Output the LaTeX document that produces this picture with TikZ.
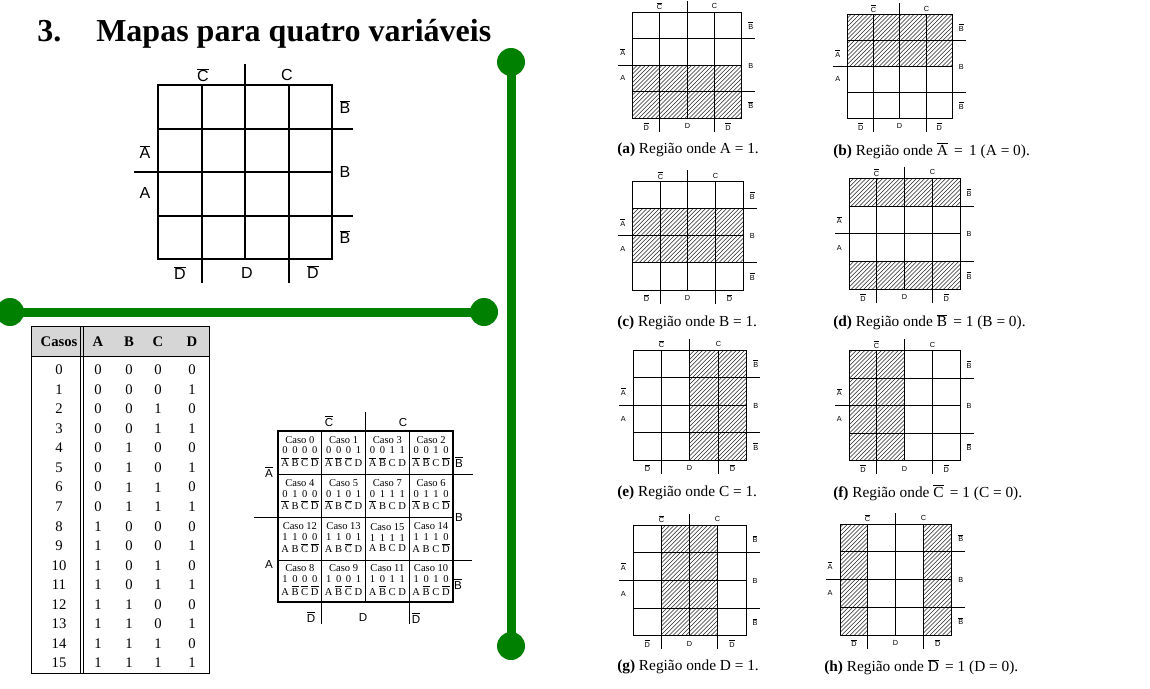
\documentclass[tikz,border=0pt]{standalone}
\usepackage{fontspec}
\setmainfont{Liberation Serif}
\setsansfont{Liberation Sans}
\usetikzlibrary{calc}
\definecolor{grn}{RGB}{0,128,0}
\definecolor{headgray}{RGB}{214,214,214}
\newcommand\nb[1]{\ensuremath{\overline{\mbox{#1}}}}
\newcommand\lt[2]{\ifnum#1=1 #2\else\nb{#2}\fi}
\tikzset{
  bigline/.style={line width=1.5pt},
  caseline/.style={line width=1.1pt},
  sline/.style={line width=0.95pt},
  tline/.style={line width=0.7pt},
  hatch/.style={line width=0.4pt, black!85},
  biglab/.style={font=\sffamily\fontsize{12}{14}\selectfont, inner sep=0pt},
  caselab/.style={font=\sffamily\fontsize{8.7}{10}\selectfont, inner sep=0pt},
  slab/.style={font=\sffamily\fontsize{5.5}{6.5}\selectfont, inner sep=0pt},
  captxt/.style={font=\fontsize{11.5}{13}\selectfont, inner sep=0pt, anchor=west},
  thead/.style={font=\bfseries\fontsize{11}{13}\selectfont, inner sep=0pt},
  tcell/.style={font=\fontsize{11}{13}\selectfont, inner sep=0pt},
  cellt/.style={font=\fontsize{7.9}{8.5}\selectfont, inner sep=0pt},
  gline/.style={line width=6.75pt, grn},
  gdot/.style={circle, fill=grn, minimum size=21pt, inner sep=0pt},
}
% small map: #1 prefix, #2 x0, #3 y0, #4 x1, #5 y1, #6 hatch list c1/r1/c2/r2
\newcommand\smap[6]{%
  \pgfmathsetmacro\cw{(#4-#2)/4}\pgfmathsetmacro\ch{(#5-#3)/4}%
  \pgfmathsetmacro\xA{floor(#2)+0.5}\pgfmathsetmacro\xB{floor(#2+\cw)+0.5}%
  \pgfmathsetmacro\xC{floor(#2+2*\cw)+0.5}\pgfmathsetmacro\xD{floor(#2+3*\cw)+0.5}%
  \pgfmathsetmacro\xE{floor(#4)+0.5}%
  \pgfmathsetmacro\yA{floor(#3)+0.5}\pgfmathsetmacro\yB{floor(#3+\ch)+0.5}%
  \pgfmathsetmacro\yC{floor(#3+2*\ch)+0.5}\pgfmathsetmacro\yD{floor(#3+3*\ch)+0.5}%
  \pgfmathsetmacro\yE{floor(#5)+0.5}%
  \foreach \ca/\ra/\cb/\rb in {#6}{%
    \begin{scope}
      \clip (#2+\ca*\cw, #3+\ra*\ch) rectangle (#2+\cb*\cw, #3+\rb*\ch);
      \foreach \t in {0,4.2,...,240} \draw[hatch] (#2-120+\t, #3+\rb*\ch) -- ++(120,-120);
    \end{scope}}%
  \draw[sline] (\xA,\yA) rectangle (\xE,\yE);
  \foreach \v in {\xB,\xC,\xD} \draw[sline] (\v,\yA) -- (\v,\yE);
  \foreach \v in {\yB,\yC,\yD} \draw[sline] (\xA,\v) -- (\xE,\v);
  \draw[sline] (\xC,\yA) -- ++(0,-12);
  \draw[sline] (\xB,\yE) -- ++(0,13);
  \draw[sline] (\xD,\yE) -- ++(0,13);
  \draw[sline] (\xE,\yB) -- ++(13,0);
  \draw[sline] (\xE,\yD) -- ++(13,0);
  \draw[sline] (\xA,\yC) -- ++(-15,0);
  \node[slab] (#1cn) at (\xB,#3-6) {\nb{C}};
  \node[slab] (#1c) at (\xD,#3-6) {C};
  \node[slab] (#1bna) at (#4+9,#3+0.5*\ch) {\nb{B}};
  \node[slab] (#1b) at (#4+9,\yC) {B};
  \node[slab] (#1bnb) at (#4+9,#3+3.5*\ch) {\nb{B}};
  \node[slab] (#1an) at (#2-10,#3+1.5*\ch) {\nb{A}};
  \node[slab] (#1a) at (#2-10,#3+2.5*\ch) {A};
  \node[slab] (#1dna) at (#2+0.5*\cw,#5+8) {\nb{D}};
  \node[slab] (#1d) at (\xC,#5+8) {D};
  \node[slab] (#1dnb) at (#2+3.5*\cw,#5+8) {\nb{D}};
}
\begin{document}
\begin{tikzpicture}[x=0.75pt,y=-0.75pt]
\useasboundingbox (0,0) rectangle (1150,689);
\fill[white] (0,0) rectangle (1150,689);

% ---------- title ----------
\node[font=\bfseries\fontsize{24}{28}\selectfont, inner sep=0pt, anchor=base west] (num) at (37,41) {3.};
\node[font=\bfseries\fontsize{24}{28}\selectfont, inner sep=0pt, anchor=base west] (title) at (96,41) {Mapas para quatro variáveis};

% ---------- big empty map ----------
\draw[bigline] (158,85) rectangle (332,259);
\foreach \x in {201.5,245,288.5} \draw[bigline] (\x,85) -- (\x,259);
\foreach \y in {128.5,172,215.5} \draw[bigline] (158,\y) -- (332,\y);
\draw[bigline] (245,85) -- (245,64);
\draw[bigline] (201.5,259) -- (201.5,283);
\draw[bigline] (288.5,259) -- (288.5,283);
\draw[bigline] (332,128.5) -- (353,128.5);
\draw[bigline] (332,215.5) -- (353,215.5);
\draw[bigline] (158,172) -- (134,172);
\node[biglab] (mcn) at (203,75) {\nb{C}};
\node[biglab] (mc) at (287,75) {C};
\node[biglab] (mbna) at (345,107) {\nb{B}};
\node[biglab] (mb) at (345,172) {B};
\node[biglab] (mbnb) at (345,237) {\nb{B}};
\node[biglab] (man) at (145,152) {\nb{A}};
\node[biglab] (ma) at (145,193) {A};
\node[biglab] (mdna) at (180,273) {\nb{D}};
\node[biglab] (md) at (247,273) {D};
\node[biglab] (mdnb) at (313,272) {\nb{D}};

% ---------- green separators ----------
\coordinate (gt) at (511,62);
\coordinate (gb) at (511,646);
\coordinate (gl) at (10,312);
\coordinate (gr) at (484,312);
\draw[gline] (gt) -- (gb);
\draw[gline] (gl) -- (gr);
\node[gdot] (dt) at (gt) {};
\node[gdot] (db) at (gb) {};
\node[gdot] (dl) at (gl) {};
\node[gdot] (dr) at (gr) {};

% ---------- truth table ----------
\fill[headgray] (31,326) rectangle (209,356);
\draw[tline] (31,326) rectangle (209,673);
\draw[tline] (31,356) -- (209,356);
\draw[tline] (80,326) -- (80,673);
\draw[tline] (83,326) -- (83,673);
\node[thead] (hcasos) at (59,342) {Casos};
\node[thead] (hA) at (98,342) {A};
\node[thead] (hB) at (129,342) {B};
\node[thead] (hC) at (158,342) {C};
\node[thead] (hD) at (192,342) {D};
\foreach \i in {0,...,15} {
  \pgfmathsetmacro\yy{370+\i*19.53}
  \pgfmathtruncatemacro\ba{floor(\i/8)}
  \pgfmathtruncatemacro\bb{mod(floor(\i/4),2)}
  \pgfmathtruncatemacro\bc{mod(floor(\i/2),2)}
  \pgfmathtruncatemacro\bd{mod(\i,2)}
  \node[tcell] (tn\i) at (59,\yy) {\i};
  \node[tcell] (ta\i) at (98,\yy) {\ba};
  \node[tcell] (tb\i) at (129,\yy) {\bb};
  \node[tcell] (tc\i) at (158,\yy) {\bc};
  \node[tcell] (td\i) at (192,\yy) {\bd};
}

% ---------- map with cases ----------
\draw[caseline] (278,431) rectangle (453,602);
\foreach \x in {321.75,365.5,409.25} \draw[caseline] (\x,431) -- (\x,602);
\foreach \y in {474.5,517.5,560.5} \draw[caseline] (278,\y) -- (453,\y);
\draw[caseline] (365.5,431) -- (365.5,412);
\draw[caseline] (321.75,602) -- (321.75,624);
\draw[caseline] (409.25,602) -- (409.25,624);
\draw[caseline] (453,474.5) -- (473,474.5);
\draw[caseline] (453,560.5) -- (472,560.5);
\draw[caseline] (278,517.5) -- (254,517.5);
\node[caselab] (kcn) at (329,421) {\nb{C}};
\node[caselab] (kc) at (403,423) {C};
\node[caselab] (kbna) at (459,462) {\nb{B}};
\node[caselab] (kb) at (459,518) {B};
\node[caselab] (kbnb) at (458,584) {\nb{B}};
\node[caselab] (kan) at (269,472) {\nb{A}};
\node[caselab] (ka) at (269,565) {A};
\node[caselab] (kdna) at (311,617) {\nb{D}};
\node[caselab] (kd) at (363,618) {D};
\node[caselab] (kdnb) at (416,618) {\nb{D}};
\foreach \n/\cx/\cy in {0/299.9/452.75, 1/343.6/452.75, 3/387.4/452.75, 2/431.1/452.75,
                        4/299.9/496, 5/343.6/496, 7/387.4/496, 6/431.1/496,
                        12/299.9/539, 13/343.6/539, 15/387.4/539, 14/431.1/539,
                        8/299.9/581.25, 9/343.6/581.25, 11/387.4/581.25, 10/431.1/581.25} {
  \pgfmathtruncatemacro\ba{floor(\n/8)}
  \pgfmathtruncatemacro\bb{mod(floor(\n/4),2)}
  \pgfmathtruncatemacro\bc{mod(floor(\n/2),2)}
  \pgfmathtruncatemacro\bd{mod(\n,2)}
  \node[cellt] (caso\n) at (\cx,\cy) {\def\arraystretch{0.95}%
    \begin{tabular}{@{}c@{\hspace{2pt}}c@{\hspace{2pt}}c@{\hspace{2pt}}c@{}}
      \multicolumn{4}{@{}c@{}}{Caso \n}\\
      \ba & \bb & \bc & \bd\\
      \lt{\ba}{A} & \lt{\bb}{B} & \lt{\bc}{C} & \lt{\bd}{D}
    \end{tabular}};
}

% ---------- eight region maps ----------
\smap{sa}{632.7}{12}{741.7}{118.3}{0/2/4/4}
\smap{sb}{847.7}{14.7}{952.3}{118.3}{0/0/4/2}
\smap{sc}{632.7}{181.7}{743.3}{290}{0/1/4/3}
\smap{sd}{849.3}{178.3}{960}{289.3}{0/0/4/1,0/3/4/4}
\smap{se}{633.3}{350}{746.7}{460}{2/0/4/4}
\smap{sf}{849.3}{350.7}{960}{460.7}{0/0/2/4}
\smap{sg}{633.3}{525}{746}{635.7}{1/0/3/4}
\smap{sh}{840}{524}{951.7}{635}{0/0/1/4,3/0/4/4}

\node[captxt] (capa) at (617,150) {\textbf{(a)} Região onde A = 1.};
\node[captxt] (capb) at (833,151) {\textbf{(b)} Região onde \nb{A}\, = \,1 (A = 0).};
\node[captxt] (capc) at (617,323) {\textbf{(c)} Região onde B = 1.};
\node[captxt] (capd) at (833,322) {\textbf{(d)} Região onde \nb{B}\, = 1 (B = 0).};
\node[captxt] (cape) at (617,493) {\textbf{(e)} Região onde C = 1.};
\node[captxt] (capf) at (833,493) {\textbf{(f)} Região onde \nb{C}\, = 1 (C = 0).};
\node[captxt] (capg) at (617,667) {\textbf{(g)} Região onde D = 1.};
\node[captxt] (caph) at (824,667) {\textbf{(h)} Região onde \nb{D}\, = 1 (D = 0).};
\end{tikzpicture}
\end{document}
